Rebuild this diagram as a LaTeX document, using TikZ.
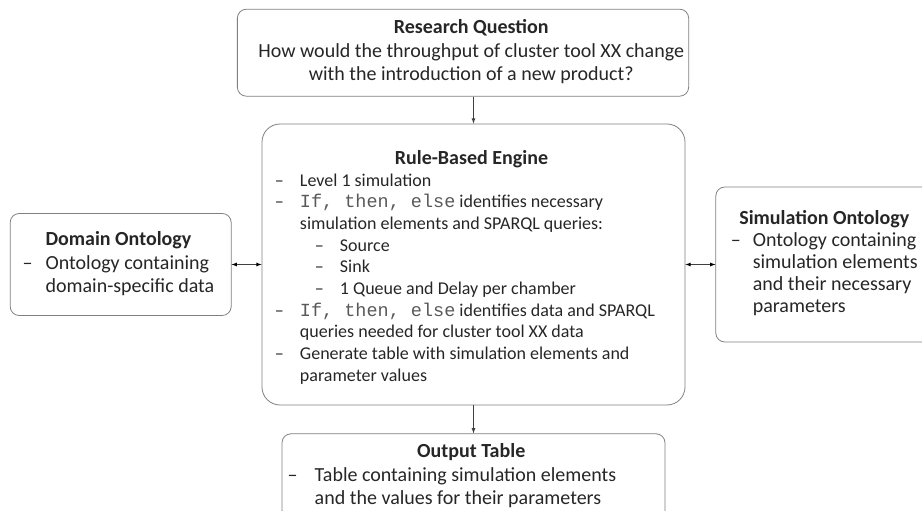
\documentclass[tikz,border=0pt]{standalone}
\usepackage{fontspec}
\setmainfont{Carlito}
\setmonofont{Liberation Mono}
\usetikzlibrary{positioning}

\newcommand{\bigtext}{\fontsize{20}{23.5}\selectfont}
\newcommand{\smalltext}{\fontsize{18}{21.7}\selectfont}
\newcommand{\titletext}[1]{{\fontsize{20}{21.7}\selectfont\textbf{#1}}}
\newcommand{\ruleword}{\leavevmode{\ttfamily\fontsize{18.5}{21.7}\selectfont\color{black!65}If, then, else}}
\newcommand{\subdash}{\hspace*{15pt}\makebox[25pt][l]{--}}

\begin{document}
\begin{tikzpicture}[
		x=1pt,y=1pt,
		mybox/.style={draw=black!50,line width=0.8pt,rounded corners=9pt,text=black!85,inner sep=0pt,align=left},
		myarrow/.style={draw=black!75,line width=0.8pt}
		]
		\useasboundingbox (0,0) rectangle (922,-511);
		\clip (0,0) rectangle (922,-511);
		\node[mybox,rounded corners=18pt,minimum width=423pt,minimum height=281pt,font=\smalltext] (engine) at (473.5,-264.5)
		{
			\begin{tabular}{@{}p{25pt}@{}p{368pt}@{}}
				\noalign{\vspace{8pt}}
				\multicolumn{2}{@{}c@{}}{\titletext{Rule-Based Engine}} \\
				-- & Level 1 simulation \\
				-- & \ruleword{} identifies necessary \\
				   & simulation elements and SPARQL queries: \\
				   & \subdash Source \\
				   & \subdash Sink \\
				   & \subdash 1 Queue and Delay per chamber \\
				-- & \ruleword{} identifies data and SPARQL \\
				   & queries needed for cluster tool XX data \\
				-- & Generate table with simulation elements and \\
				   & parameter values \\
			\end{tabular}
		};
		\node[mybox,above=27pt of engine,xshift=-10.5pt,minimum width=450pt,minimum height=87pt,font=\bigtext] (question)
		{
			\begin{tabular}{@{\hspace{21pt}}c@{}}
				\textbf{Research Question} \\
				How would the throughput of cluster tool XX change \\
				with the introduction of a new product? \\
			\end{tabular}
		};
		\node[mybox,left=30pt of engine,minimum width=221pt,minimum height=102pt,font=\bigtext] (domain)
		{
			\begin{tabular}{@{}p{23pt}@{}l@{}}
				\multicolumn{2}{@{}c@{}}{\textbf{Domain Ontology}} \\
				-- & Ontology containing \\
				   & domain-specific data \\
			\end{tabular}
		};
		\node[mybox,right=30pt of engine,inner xsep=15pt,minimum height=155pt,font=\fontsize{20}{22}\selectfont] (simonto)
		{
			\begin{tabular}{@{}p{22pt}@{}l@{}}
				\multicolumn{2}{@{}c@{}}{\textbf{Simulation Ontology}} \\
				-- & Ontology containing \\
				   & simulation elements \\
				   & and their necessary \\
				   & parameters \\
			\end{tabular}
		};
		\node[mybox,below=28pt of engine,inner ysep=7.5pt,minimum width=383pt,font=\bigtext] (output)
		{
			\begin{tabular}{@{}p{27pt}@{}p{340pt}@{}}
				\multicolumn{2}{@{}c@{}}{\textbf{Output Table}} \\
				-- & Table containing simulation elements \\
				   & and the values for their parameters \\
			\end{tabular}
		};
		\draw [myarrow,-latex] (engine.north |- question.south) -- (engine.north);
		\draw [myarrow,-latex] (engine) -- (output);
		\path [myarrow,latex-latex]
		(domain) edge (engine)
		(engine) edge (simonto);
	\end{tikzpicture}
\end{document}
